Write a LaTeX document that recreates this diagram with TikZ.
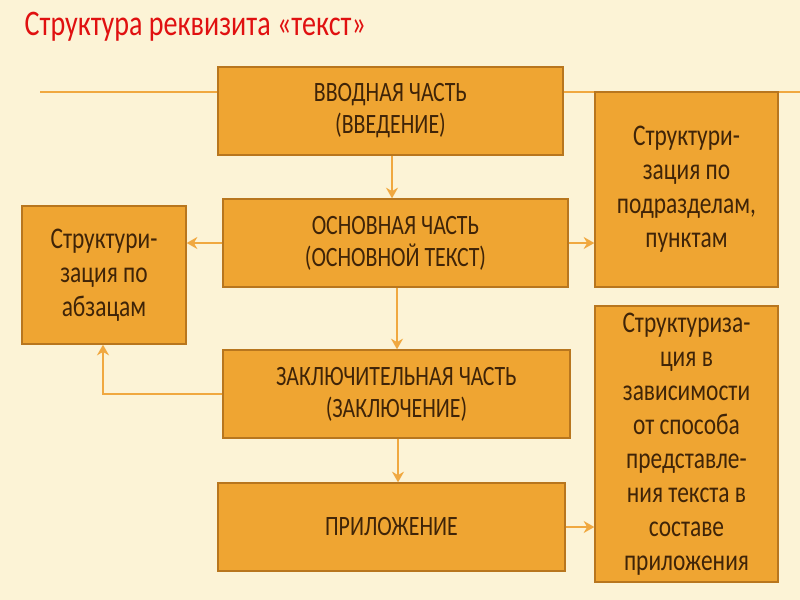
\documentclass[tikz,border=0pt]{standalone}
\usepackage{fontspec}
\usetikzlibrary{arrows.meta}
\setmainfont{Carlito}
\newfontfamily\condf[FakeStretch=0.78]{Carlito}
\begin{document}
\begin{tikzpicture}[x=0.75pt,y=-0.75pt,
  box/.style={draw=boxline,line width=1pt,fill=boxfill,text=boxtext,align=center,font=\condf\fontsize{21}{24}\selectfont,inner sep=2pt},
  side/.style={box,font=\condf\fontsize{22.5}{25.5}\selectfont},
  conn/.style={draw=arr,line width=1.6pt},
  arrow/.style={conn,-{Stealth[length=8pt,width=9pt]}}]
\definecolor{bg}{HTML}{FCF3D6}
\definecolor{boxfill}{HTML}{EFA532}
\definecolor{boxline}{HTML}{B8761E}
\definecolor{boxtext}{HTML}{3F2408}
\definecolor{arr}{HTML}{F0A840}
\definecolor{titlec}{HTML}{E01010}
\fill[bg] (0,0) rectangle (800,600);
\useasboundingbox (0,0) rectangle (800,600);
\node[anchor=west,text=titlec,font=\condf\fontsize{27}{30}\selectfont] (title) at (20,27) {Структура реквизита «текст»};
\coordinate (hl) at (40,92); \coordinate (hr) at (800,92);
\draw[conn,line width=1.2pt] (hl) -- (hr);
\node[box,minimum width=345pt*0.75,minimum height=88pt*0.75] (intro) at (390.5,111) {ВВОДНАЯ ЧАСТЬ\\(ВВЕДЕНИЕ)};
\node[box,minimum width=345pt*0.75,minimum height=88pt*0.75] (main) at (395.5,243) {ОСНОВНАЯ ЧАСТЬ\\(ОСНОВНОЙ ТЕКСТ)};
\node[box,minimum width=347pt*0.75,minimum height=88pt*0.75] (concl) at (396.5,394) {ЗАКЛЮЧИТЕЛЬНАЯ ЧАСТЬ\\(ЗАКЛЮЧЕНИЕ)};
\node[box,minimum width=347pt*0.75,minimum height=88pt*0.75] (app) at (391.5,527) {ПРИЛОЖЕНИЕ};
\node[side,minimum width=164pt*0.75,minimum height=138pt*0.75] (left) at (104,275) {Структури-\\зация по\\абзацам};
\node[side,minimum width=183pt*0.75,minimum height=195pt*0.75] (r1) at (686.5,189.5) {Структури-\\зация по\\подразделам,\\пунктам};
\node[side,minimum width=183pt*0.75,minimum height=276pt*0.75] (r2) at (686.5,444) {Структуриза-\\ция в\\зависимости\\от способа\\представле-\\ния текста в\\составе\\приложения};
\draw[arrow] (intro.south -| 392,0) -- (main.north -| 392,0);
\draw[arrow] (main.south -| 397,0) -- (concl.north -| 397,0);
\draw[arrow] (concl.south -| 398,0) -- (app.north -| 398,0);
\draw[arrow] (main.west) -- (left.east |- main.west);
\draw[arrow] (main.east) -- (r1.west |- main.east);
\draw[arrow] (app.east) -- (r2.west |- app.east);
\draw[arrow] (concl.west) -- (103,394) -- (left.south -| 103,0);
\end{tikzpicture}
\end{document}
